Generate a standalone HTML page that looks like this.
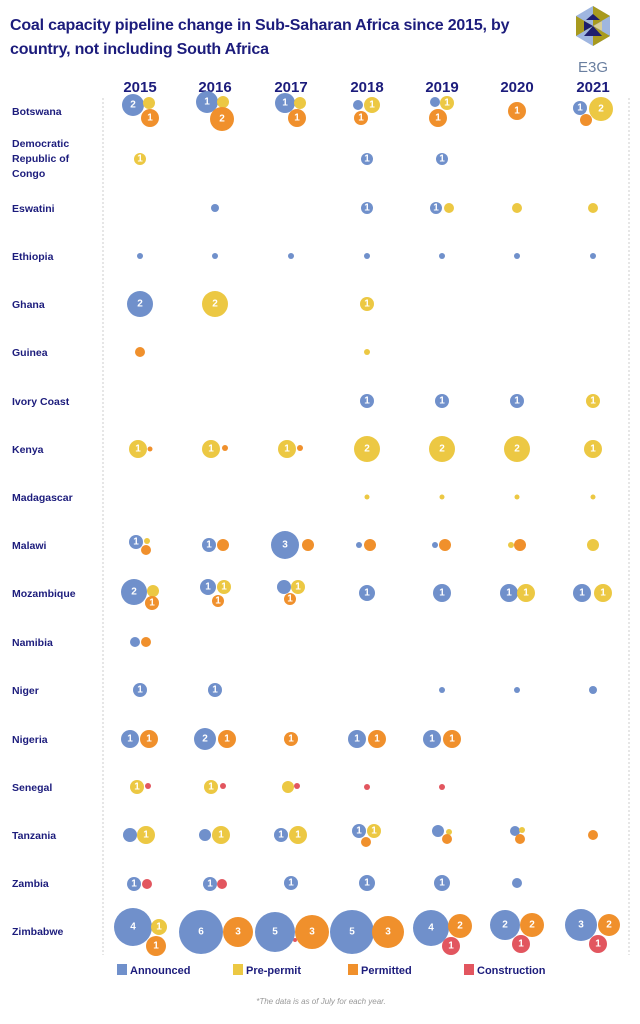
<!DOCTYPE html>
<html><head><meta charset="utf-8"><style>
html,body{margin:0;padding:0;background:#fff;}
svg{display:block;}
text{font-family:"Liberation Sans",sans-serif;}
.l{font-size:10.5px;font-weight:bold;fill:#1c1c7c;}
.lg{font-size:11px;font-weight:bold;fill:#1c1c7c;}
.y{font-size:15px;font-weight:bold;fill:#1c1c7c;text-anchor:middle;}
.n{font-size:10px;font-weight:bold;fill:#fff;text-anchor:middle;dominant-baseline:central;}
.b{fill:#7090cb}.w{fill:#ecc843}.o{fill:#f0902c}.r{fill:#e2565f}
.t{font-size:16px;font-weight:bold;fill:#1c1c7c;letter-spacing:-0.2px}
</style></head><body>
<svg width="640" height="1024" viewBox="0 0 640 1024" xmlns="http://www.w3.org/2000/svg">
<text x="10" y="30" class="t">Coal capacity pipeline change in Sub-Saharan Africa since 2015, by</text>
<text x="10" y="54" class="t">country, not including South Africa</text>
<!-- logo -->
<g>
<polygon points="593,6 610,16 610,36 593,46 576,36 576,16" fill="#9fb6e0"/>
<polygon points="593,6 610,16 593,26" fill="#a89a1e"/>
<polygon points="576,16 593,26 576,36" fill="#a89a1e"/>
<polygon points="593,26 610,36 593,46" fill="#a89a1e"/>
<polygon points="584,21 593,26 584,31" fill="#1e1e6e"/>
<polygon points="602,21 593,26 602,31" fill="#1e1e6e"/>
<polygon points="593,26 584,36 602,36" fill="#1e1e6e"/>
<polygon points="593,14 586,20 600,20" fill="#1e1e6e"/>
<polygon points="593,26 602,31 602,21" fill="#d8cf98"/>
</g>
<text x="593" y="72" style="font-size:15px;fill:#6a7fa0;text-anchor:middle">E3G</text>
<g class="y"><text x="140" y="92" class="y">2015</text><text x="215" y="92" class="y">2016</text><text x="291" y="92" class="y">2017</text><text x="367" y="92" class="y">2018</text><text x="442" y="92" class="y">2019</text><text x="517" y="92" class="y">2020</text><text x="593" y="92" class="y">2021</text></g>
<line x1="103" y1="98" x2="103" y2="955" stroke="#ccc" stroke-dasharray="2,2"/>
<line x1="629" y1="98" x2="629" y2="955" stroke="#ccc" stroke-dasharray="2,2"/>
<text class="l" x="12" y="115">Botswana</text>
<text class="l" x="12" y="147">Democratic</text><text class="l" x="12" y="162">Republic of</text><text class="l" x="12" y="177">Congo</text>
<text class="l" x="12" y="212">Eswatini</text>
<text class="l" x="12" y="260">Ethiopia</text>
<text class="l" x="12" y="308">Ghana</text>
<text class="l" x="12" y="356">Guinea</text>
<text class="l" x="12" y="405">Ivory Coast</text>
<text class="l" x="12" y="453">Kenya</text>
<text class="l" x="12" y="501">Madagascar</text>
<text class="l" x="12" y="549">Malawi</text>
<text class="l" x="12" y="597">Mozambique</text>
<text class="l" x="12" y="646">Namibia</text>
<text class="l" x="12" y="694">Niger</text>
<text class="l" x="12" y="743">Nigeria</text>
<text class="l" x="12" y="791">Senegal</text>
<text class="l" x="12" y="839">Tanzania</text>
<text class="l" x="12" y="887">Zambia</text>
<text class="l" x="12" y="935">Zimbabwe</text>
<!-- Botswana -->
<circle class="b" cx="133" cy="105" r="11"/><text class="n" x="133" y="105">2</text>
<circle class="w" cx="149" cy="103" r="6"/>
<circle class="o" cx="150" cy="118" r="9"/><text class="n" x="150" y="118">1</text>
<circle class="b" cx="207" cy="102" r="11"/><text class="n" x="207" y="102">1</text>
<circle class="w" cx="223" cy="102" r="6"/>
<circle class="o" cx="222" cy="119" r="12"/><text class="n" x="222" y="119">2</text>
<circle class="b" cx="285" cy="103" r="10"/><text class="n" x="285" y="103">1</text>
<circle class="w" cx="300" cy="103" r="6"/>
<circle class="o" cx="297" cy="118" r="9"/><text class="n" x="297" y="118">1</text>
<circle class="b" cx="358" cy="105" r="5"/>
<circle class="w" cx="372" cy="105" r="8"/><text class="n" x="372" y="105">1</text>
<circle class="o" cx="361" cy="118" r="7"/><text class="n" x="361" y="118">1</text>
<circle class="b" cx="435" cy="102" r="5"/>
<circle class="w" cx="447" cy="103" r="7"/><text class="n" x="447" y="103">1</text>
<circle class="o" cx="438" cy="118" r="9"/><text class="n" x="438" y="118">1</text>
<circle class="o" cx="517" cy="111" r="9"/><text class="n" x="517" y="111">1</text>
<circle class="b" cx="580" cy="108" r="7"/><text class="n" x="580" y="108">1</text>
<circle class="o" cx="586" cy="120" r="6"/>
<circle class="w" cx="601" cy="109" r="12"/><text class="n" x="601" y="109">2</text>
<!-- DRC -->
<circle class="w" cx="140" cy="159" r="6"/><text class="n" x="140" y="159">1</text>
<circle class="b" cx="367" cy="159" r="6"/><text class="n" x="367" y="159">1</text>
<circle class="b" cx="442" cy="159" r="6"/><text class="n" x="442" y="159">1</text>
<!-- Eswatini -->
<circle class="b" cx="215" cy="208" r="4"/>
<circle class="b" cx="367" cy="208" r="6"/><text class="n" x="367" y="208">1</text>
<circle class="b" cx="436" cy="208" r="6"/><text class="n" x="436" y="208">1</text>
<circle class="w" cx="449" cy="208" r="5"/>
<circle class="w" cx="517" cy="208" r="5"/>
<circle class="w" cx="593" cy="208" r="5"/>
<!-- Ethiopia -->
<circle class="b" cx="140" cy="256" r="3"/><circle class="b" cx="215" cy="256" r="3"/><circle class="b" cx="291" cy="256" r="3"/><circle class="b" cx="367" cy="256" r="3"/><circle class="b" cx="442" cy="256" r="3"/><circle class="b" cx="517" cy="256" r="3"/><circle class="b" cx="593" cy="256" r="3"/>
<!-- Ghana -->
<circle class="b" cx="140" cy="304" r="13"/><text class="n" x="140" y="304">2</text>
<circle class="w" cx="215" cy="304" r="13"/><text class="n" x="215" y="304">2</text>
<circle class="w" cx="367" cy="304" r="7"/><text class="n" x="367" y="304">1</text>
<!-- Guinea -->
<circle class="o" cx="140" cy="352" r="5"/>
<circle class="w" cx="367" cy="352" r="3"/>
<!-- Ivory -->
<circle class="b" cx="367" cy="401" r="7"/><text class="n" x="367" y="401">1</text>
<circle class="b" cx="442" cy="401" r="7"/><text class="n" x="442" y="401">1</text>
<circle class="b" cx="517" cy="401" r="7"/><text class="n" x="517" y="401">1</text>
<circle class="w" cx="593" cy="401" r="7"/><text class="n" x="593" y="401">1</text>
<!-- Kenya -->
<circle class="w" cx="138" cy="449" r="9"/><text class="n" x="138" y="449">1</text><circle class="o" cx="150" cy="449" r="2.5"/>
<circle class="w" cx="211" cy="449" r="9"/><text class="n" x="211" y="449">1</text><circle class="o" cx="225" cy="448" r="3"/>
<circle class="w" cx="287" cy="449" r="9"/><text class="n" x="287" y="449">1</text><circle class="o" cx="300" cy="448" r="3"/>
<circle class="w" cx="367" cy="449" r="13"/><text class="n" x="367" y="449">2</text>
<circle class="w" cx="442" cy="449" r="13"/><text class="n" x="442" y="449">2</text>
<circle class="w" cx="517" cy="449" r="13"/><text class="n" x="517" y="449">2</text>
<circle class="w" cx="593" cy="449" r="9"/><text class="n" x="593" y="449">1</text>
<!-- Madagascar -->
<circle class="w" cx="367" cy="497" r="2.5"/><circle class="w" cx="442" cy="497" r="2.5"/><circle class="w" cx="517" cy="497" r="2.5"/><circle class="w" cx="593" cy="497" r="2.5"/>
<!-- Malawi -->
<circle class="b" cx="136" cy="542" r="7"/><text class="n" x="136" y="542">1</text><circle class="w" cx="147" cy="541" r="3"/><circle class="o" cx="146" cy="550" r="5"/>
<circle class="b" cx="209" cy="545" r="7"/><text class="n" x="209" y="545">1</text><circle class="o" cx="223" cy="545" r="6"/>
<circle class="b" cx="285" cy="545" r="14"/><text class="n" x="285" y="545">3</text><circle class="o" cx="308" cy="545" r="6"/>
<circle class="b" cx="359" cy="545" r="3"/><circle class="o" cx="370" cy="545" r="6"/>
<circle class="b" cx="435" cy="545" r="3"/><circle class="o" cx="445" cy="545" r="6"/>
<circle class="w" cx="511" cy="545" r="3"/><circle class="o" cx="520" cy="545" r="6"/>
<circle class="w" cx="593" cy="545" r="6"/>
<!-- Mozambique -->
<circle class="b" cx="134" cy="592" r="13"/><text class="n" x="134" y="592">2</text><circle class="w" cx="153" cy="591" r="6"/><circle class="o" cx="152" cy="603" r="7"/><text class="n" x="152" y="603">1</text>
<circle class="b" cx="208" cy="587" r="8"/><text class="n" x="208" y="587">1</text><circle class="w" cx="224" cy="587" r="7"/><text class="n" x="224" y="587">1</text><circle class="o" cx="218" cy="601" r="6"/><text class="n" x="218" y="601">1</text>
<circle class="b" cx="284" cy="587" r="7"/><circle class="w" cx="298" cy="587" r="7"/><text class="n" x="298" y="587">1</text><circle class="o" cx="290" cy="599" r="6"/><text class="n" x="290" y="599">1</text>
<circle class="b" cx="367" cy="593" r="8"/><text class="n" x="367" y="593">1</text>
<circle class="b" cx="442" cy="593" r="9"/><text class="n" x="442" y="593">1</text>
<circle class="b" cx="509" cy="593" r="9"/><text class="n" x="509" y="593">1</text><circle class="w" cx="526" cy="593" r="9"/><text class="n" x="526" y="593">1</text>
<circle class="b" cx="582" cy="593" r="9"/><text class="n" x="582" y="593">1</text><circle class="w" cx="603" cy="593" r="9"/><text class="n" x="603" y="593">1</text>
<!-- Namibia -->
<circle class="b" cx="135" cy="642" r="5"/><circle class="o" cx="146" cy="642" r="5"/>
<!-- Niger -->
<circle class="b" cx="140" cy="690" r="7"/><text class="n" x="140" y="690">1</text>
<circle class="b" cx="215" cy="690" r="7"/><text class="n" x="215" y="690">1</text>
<circle class="b" cx="442" cy="690" r="3"/><circle class="b" cx="517" cy="690" r="3"/><circle class="b" cx="593" cy="690" r="4"/>
<!-- Nigeria -->
<circle class="b" cx="130" cy="739" r="9"/><text class="n" x="130" y="739">1</text><circle class="o" cx="149" cy="739" r="9"/><text class="n" x="149" y="739">1</text>
<circle class="b" cx="205" cy="739" r="11"/><text class="n" x="205" y="739">2</text><circle class="o" cx="227" cy="739" r="9"/><text class="n" x="227" y="739">1</text>
<circle class="o" cx="291" cy="739" r="7"/><text class="n" x="291" y="739">1</text>
<circle class="b" cx="357" cy="739" r="9"/><text class="n" x="357" y="739">1</text><circle class="o" cx="377" cy="739" r="9"/><text class="n" x="377" y="739">1</text>
<circle class="b" cx="432" cy="739" r="9"/><text class="n" x="432" y="739">1</text><circle class="o" cx="452" cy="739" r="9"/><text class="n" x="452" y="739">1</text>
<!-- Senegal -->
<circle class="w" cx="137" cy="787" r="7"/><text class="n" x="137" y="787">1</text><circle class="r" cx="148" cy="786" r="3"/>
<circle class="w" cx="211" cy="787" r="7"/><text class="n" x="211" y="787">1</text><circle class="r" cx="223" cy="786" r="3"/>
<circle class="w" cx="288" cy="787" r="6"/><circle class="r" cx="297" cy="786" r="3"/>
<circle class="r" cx="367" cy="787" r="3"/><circle class="r" cx="442" cy="787" r="3"/>
<!-- Tanzania -->
<circle class="b" cx="130" cy="835" r="7"/><circle class="w" cx="146" cy="835" r="9"/><text class="n" x="146" y="835">1</text>
<circle class="b" cx="205" cy="835" r="6"/><circle class="w" cx="221" cy="835" r="9"/><text class="n" x="221" y="835">1</text>
<circle class="b" cx="281" cy="835" r="7"/><text class="n" x="281" y="835">1</text><circle class="w" cx="298" cy="835" r="9"/><text class="n" x="298" y="835">1</text>
<circle class="b" cx="359" cy="831" r="7"/><text class="n" x="359" y="831">1</text><circle class="w" cx="374" cy="831" r="7"/><text class="n" x="374" y="831">1</text><circle class="o" cx="366" cy="842" r="5"/>
<circle class="b" cx="438" cy="831" r="6"/><circle class="w" cx="449" cy="832" r="3"/><circle class="o" cx="447" cy="839" r="5"/>
<circle class="b" cx="515" cy="831" r="5"/><circle class="w" cx="522" cy="830" r="3"/><circle class="o" cx="520" cy="839" r="5"/>
<circle class="o" cx="593" cy="835" r="5"/>
<!-- Zambia -->
<circle class="b" cx="134" cy="884" r="7"/><text class="n" x="134" y="884">1</text><circle class="r" cx="147" cy="884" r="5"/>
<circle class="b" cx="210" cy="884" r="7"/><text class="n" x="210" y="884">1</text><circle class="r" cx="222" cy="884" r="5"/>
<circle class="b" cx="291" cy="883" r="7"/><text class="n" x="291" y="883">1</text>
<circle class="b" cx="367" cy="883" r="8"/><text class="n" x="367" y="883">1</text>
<circle class="b" cx="442" cy="883" r="8"/><text class="n" x="442" y="883">1</text>
<circle class="b" cx="517" cy="883" r="5"/>
<!-- Zimbabwe -->
<circle class="b" cx="133" cy="927" r="19"/><text class="n" x="133" y="927">4</text><circle class="w" cx="159" cy="927" r="8"/><text class="n" x="159" y="927">1</text><circle class="o" cx="156" cy="946" r="10"/><text class="n" x="156" y="946">1</text>
<circle class="b" cx="201" cy="932" r="22"/><text class="n" x="201" y="932">6</text><circle class="o" cx="238" cy="932" r="15"/><text class="n" x="238" y="932">3</text>
<circle class="r" cx="295" cy="940" r="2"/><circle class="b" cx="275" cy="932" r="20"/><text class="n" x="275" y="932">5</text><circle class="o" cx="312" cy="932" r="17"/><text class="n" x="312" y="932">3</text>
<circle class="b" cx="352" cy="932" r="22"/><text class="n" x="352" y="932">5</text><circle class="o" cx="388" cy="932" r="16"/><text class="n" x="388" y="932">3</text>
<circle class="b" cx="431" cy="928" r="18"/><text class="n" x="431" y="928">4</text><circle class="o" cx="460" cy="926" r="12"/><text class="n" x="460" y="926">2</text><circle class="r" cx="451" cy="946" r="9"/><text class="n" x="451" y="946">1</text>
<circle class="b" cx="505" cy="925" r="15"/><text class="n" x="505" y="925">2</text><circle class="o" cx="532" cy="925" r="12"/><text class="n" x="532" y="925">2</text><circle class="r" cx="521" cy="944" r="9"/><text class="n" x="521" y="944">1</text>
<circle class="b" cx="581" cy="925" r="16"/><text class="n" x="581" y="925">3</text><circle class="o" cx="609" cy="925" r="11"/><text class="n" x="609" y="925">2</text><circle class="r" cx="598" cy="944" r="9"/><text class="n" x="598" y="944">1</text>
<!-- legend -->
<rect class="b" x="117" y="964" width="10" height="11"/><text class="lg" x="130" y="974">Announced</text>
<rect class="w" x="233" y="964" width="10" height="11"/><text class="lg" x="246" y="974">Pre-permit</text>
<rect class="o" x="348" y="964" width="10" height="11"/><text class="lg" x="361" y="974">Permitted</text>
<rect class="r" x="464" y="964" width="10" height="11"/><text class="lg" x="477" y="974">Construction</text>
<text x="321" y="1004" style="font-size:8px;font-style:italic;fill:#999;text-anchor:middle">*The data is as of July for each year.</text>
</svg>
</body></html>
